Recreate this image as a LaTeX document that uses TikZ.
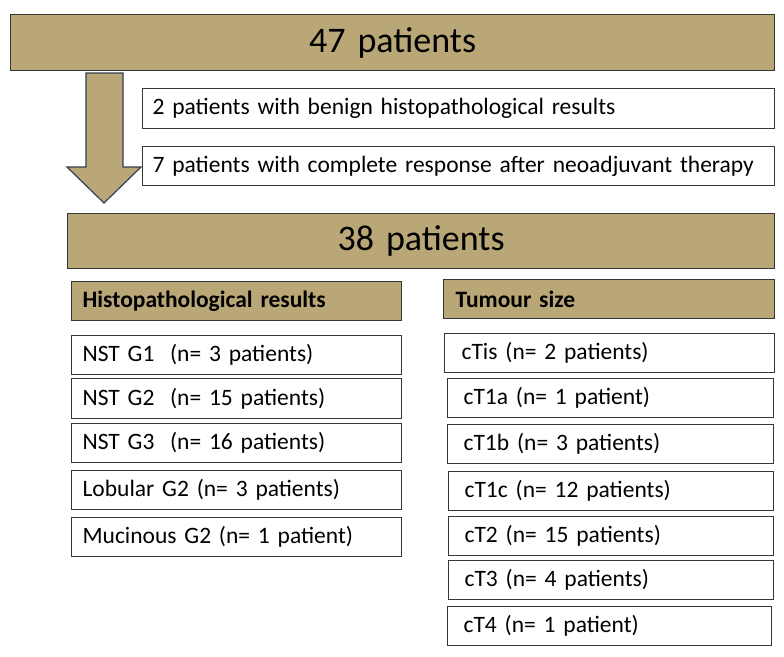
\documentclass[tikz,border=0pt]{standalone}
\usepackage{fontspec}
\setmainfont{Carlito}
\definecolor{beige}{RGB}{185,167,119}
\definecolor{linec}{RGB}{55,55,55}
\definecolor{arrowline}{RGB}{50,62,82}
\tikzset{
  basebox/.style={draw=linec, line width=1.2pt, anchor=north west, inner ysep=0pt, align=left},
  whitebox/.style={basebox, fill=white, font=\fontsize{23.5}{27}\selectfont},
  headbox/.style={basebox, fill=beige, font=\fontsize{23.5}{27}\selectfont\bfseries},
  titlebox/.style={basebox, fill=beige, align=center, inner xsep=0pt, font=\fontsize{36}{42}\selectfont},
  blockarrow/.style={draw=arrowline, line width=1.2pt, fill=beige, line join=miter}
}
\begin{document}
\begin{tikzpicture}[x=1pt,y=-1pt]
\useasboundingbox (0,0) rectangle (784,656);
% titles
\node[titlebox, minimum width=764pt, minimum height=56pt, text width=764pt] (t47) at (10,14) {47 patients};
\node[titlebox, minimum width=707pt, minimum height=55pt, text width=707pt] (t38) at (67,213) {38 patients};
% excluded
\node[whitebox, minimum width=632pt, minimum height=40pt, inner xsep=10pt, text width=612pt] (ex2) at (142,88) {2 patients with benign histopathological results};
\node[whitebox, minimum width=632pt, minimum height=39pt, inner xsep=10pt, text width=612pt] (ex7) at (142,146) {7 patients with complete response after neoadjuvant therapy};
% block arrow
\path[blockarrow] (86,73) -- (123,73) -- (123,167) -- (141,167) -- (104,203) -- (67,167) -- (86,167) -- cycle;
% left column
\node[headbox, minimum width=330pt, minimum height=39pt, inner xsep=11pt, text width=308pt] (hh) at (71,281) {Histopathological results};
\node[whitebox, minimum width=330pt, minimum height=39pt, inner xsep=11pt, text width=308pt] (l1) at (71,335) {NST G1~ (n= 3 patients)};
\node[whitebox, minimum width=330pt, minimum height=40pt, inner xsep=11pt, text width=308pt] (l2) at (71,378) {NST G2~ (n= 15 patients)};
\node[whitebox, minimum width=330pt, minimum height=39pt, inner xsep=11pt, text width=308pt] (l3) at (71,423) {NST G3~ (n= 16 patients)};
\node[whitebox, minimum width=330pt, minimum height=39pt, inner xsep=11pt, text width=308pt] (l4) at (71,470) {Lobular G2 (n= 3 patients)};
\node[whitebox, minimum width=330pt, minimum height=39pt, inner xsep=11pt, text width=308pt] (l5) at (71,517) {Mucinous G2 (n= 1 patient)};
% right column
\node[headbox, minimum width=331pt, minimum height=39pt, inner xsep=12pt, text width=307pt] (th) at (443,279) {Tumour size};
\node[whitebox, minimum width=330pt, minimum height=39pt, inner xsep=17pt, text width=296pt] (r1) at (444,333) {cTis (n= 2 patients)};
\node[whitebox, minimum width=326pt, minimum height=39pt, inner xsep=16pt, text width=294pt] (r2) at (447,378) {cT1a (n= 1 patient)};
\node[whitebox, minimum width=326pt, minimum height=39pt, inner xsep=16pt, text width=294pt] (r3) at (447,424) {cT1b (n= 3 patients)};
\node[whitebox, minimum width=325pt, minimum height=39pt, inner xsep=16pt, text width=293pt] (r4) at (448,471) {cT1c (n= 12 patients)};
\node[whitebox, minimum width=325pt, minimum height=39pt, inner xsep=16pt, text width=293pt] (r5) at (448,516) {cT2 (n= 15 patients)};
\node[whitebox, minimum width=325pt, minimum height=39pt, inner xsep=16pt, text width=293pt] (r6) at (448,560) {cT3 (n= 4 patients)};
\node[whitebox, minimum width=324pt, minimum height=39pt, inner xsep=16pt, text width=292pt] (r7) at (447,606) {cT4 (n= 1 patient)};
\end{tikzpicture}
\end{document}
